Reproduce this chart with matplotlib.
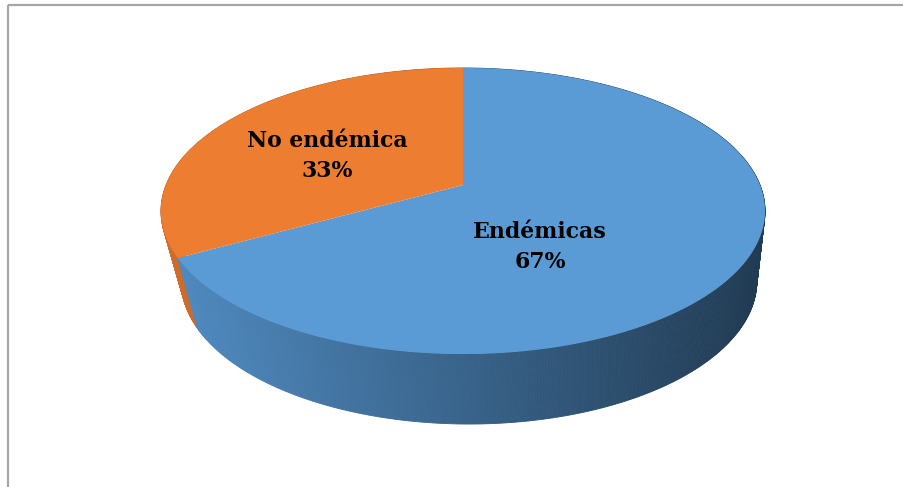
import numpy as np
import matplotlib
matplotlib.use("Agg")
import matplotlib.pyplot as plt
from matplotlib.collections import PolyCollection
from matplotlib.patches import Polygon, Rectangle
from matplotlib.colors import to_rgb

# Data
categories = ["Endémicas", "No endémica"]
shares = [67, 33]

# Styling
top_colors = ["#5b9bd5", "#ed7d31"]
side_light = ["#4f8ac0", "#cf6b2b"]
side_dark = ["#213b53", "#8c4a1e"]

W, H = 904, 487
fig = plt.figure(figsize=(W / 100, H / 100), dpi=100)
ax = fig.add_axes([0, 0, 1, 1])
ax.set_xlim(0, W)
ax.set_ylim(H, 0)
ax.axis("off")

# Perspective disc: theta measured clockwise from the far (top) point
K = 0.1818
TOP = dict(cx=463, cy=185, sx=297, sy=138.3)
BOT = dict(cx=469, cy=255, sx=283, sy=138.3)


def project(theta, cx, cy, sx, sy):
    x = np.sin(theta)
    y = np.cos(theta)
    w = 1 + K * y
    return cx + sx * x / w, cy - sy * y / w


fracs = np.array(shares, dtype=float) / np.sum(shares)
edges = np.concatenate([[0], np.cumsum(fracs)]) * 2 * np.pi

# Side wall, built from thin quads shaded left-to-right
quads, colors, depth = [], [], []
x_lo, x_hi = 180.0, 757.0
for i in range(len(shares)):
    th = np.linspace(edges[i], edges[i + 1], max(int(720 * fracs[i]), 8))
    tx, ty = project(th, **TOP)
    bx, by = project(th, **BOT)
    cl = np.array(to_rgb(side_light[i]))
    cd = np.array(to_rgb(side_dark[i]))
    for j in range(len(th) - 1):
        quads.append([(tx[j], ty[j]), (tx[j + 1], ty[j + 1]),
                      (bx[j + 1], by[j + 1]), (bx[j], by[j])])
        xm = 0.25 * (tx[j] + tx[j + 1] + bx[j] + bx[j + 1])
        t = np.clip((xm - x_lo) / (x_hi - x_lo), 0, 1)
        colors.append(tuple(cl * (1 - t) + cd * t))
        depth.append(np.cos(0.5 * (th[j] + th[j + 1])))

order = np.argsort(depth)[::-1]
quads = [quads[o] for o in order]
colors = [colors[o] for o in order]
ax.add_collection(PolyCollection(quads, facecolors=colors, edgecolors=colors,
                                 linewidths=0.6))

# Top faces
cx0, cy0 = TOP["cx"], TOP["cy"]
for i in range(len(shares)):
    th = np.linspace(edges[i], edges[i + 1], 400)
    tx, ty = project(th, **TOP)
    pts = np.column_stack([np.r_[cx0, tx], np.r_[cy0, ty]])
    ax.add_patch(Polygon(pts, closed=True, facecolor=top_colors[i],
                         edgecolor="none"))

# Labels
label_pos = [(540, 247), (327, 156)]
for i, name in enumerate(categories):
    ax.text(label_pos[i][0], label_pos[i][1], f"{name}\n{shares[i]}%",
            ha="center", va="center", fontsize=15.8, fontweight="bold",
            family="DejaVu Serif", color="black", linespacing=1.45)

# Chart frame
ax.add_patch(Rectangle((8, 5), 920, 500, fill=False, edgecolor="#a6a6a6",
                       linewidth=1.6))

fig.savefig("out.png", dpi=100)
